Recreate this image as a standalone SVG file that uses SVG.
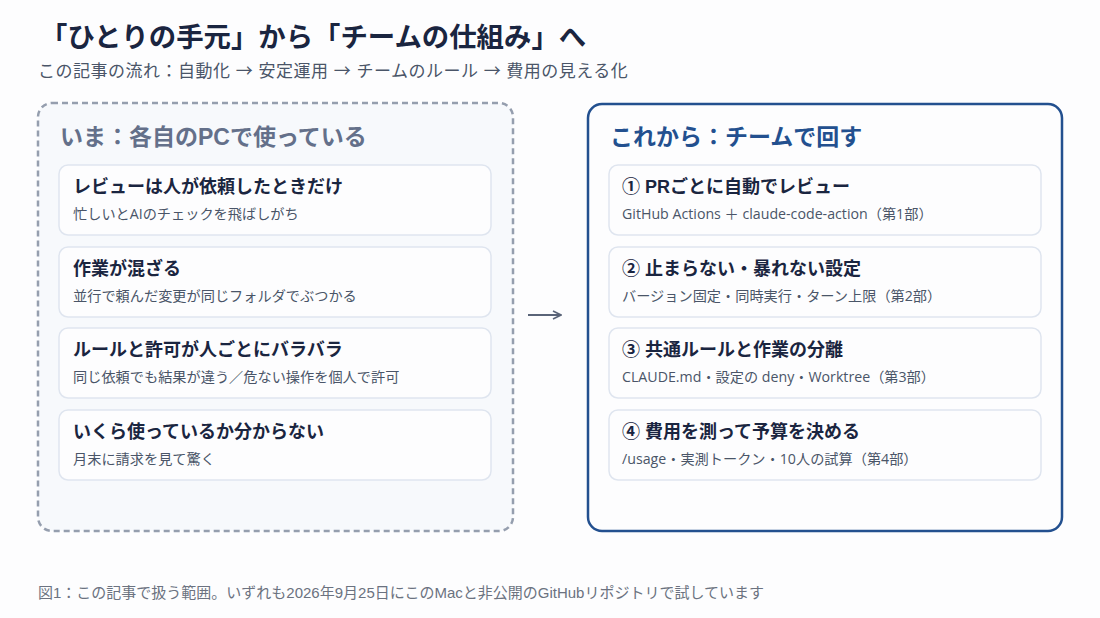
<svg xmlns="http://www.w3.org/2000/svg" width="1100" height="618" viewBox="0 0 1100 618">
<defs>
<style>
text{font-family:"Liberation Sans","Noto Sans CJK JP",sans-serif}
.t{font-size:27.4px;font-weight:700;fill:#1a2540}
.st{font-size:17px;fill:#4a5568;letter-spacing:0.5px}
.ar{font-family:"Noto Sans CJK JP",sans-serif}
.h{font-size:23px;font-weight:700}
.card{fill:#fdfdfe;stroke:#dfe5ef;stroke-width:1.5}
.ct{font-size:18px;font-weight:700;fill:#1a2540}
.cs{font-size:14.2px;fill:#4a5568;font-family:"Open Sans","Noto Sans CJK JP",sans-serif}
.foot{font-size:15px;fill:#6b7280}
</style>
<marker id="ah" viewBox="0 0 10 10" refX="9" refY="5" markerWidth="10" markerHeight="10" markerUnits="userSpaceOnUse" orient="auto">
<path d="M1 1 L9 5 L1 9" fill="none" stroke="#5a6478" stroke-width="1.6"/>
</marker>
</defs>
<rect width="1100" height="618" fill="#fdfdfe"/>
<text class="t" x="40" y="47">「ひとりの手元」から「チームの仕組み」へ</text>
<text class="st" x="38" y="77">この記事の流れ：自動化 <tspan class="ar">→</tspan> 安定運用 <tspan class="ar">→</tspan> チームのルール <tspan class="ar">→</tspan> 費用の見える化</text>

<g id="left-panel">
<rect x="38" y="103" width="475" height="428" rx="14" fill="#f7f9fc" stroke="#959eae" stroke-width="2.5" stroke-dasharray="6,4"/>
<text class="h" x="60" y="145" fill="#64708a">いま：各自のPCで使っている</text>
</g>
<g id="left-1">
<rect class="card" x="59" y="165" width="432" height="70" rx="9"/>
<text class="ct" x="73" y="193">レビューは人が依頼したときだけ</text>
<text class="cs" x="73" y="219">忙しいとAIのチェックを飛ばしがち</text>
</g>
<g id="left-2">
<rect class="card" x="59" y="247" width="432" height="70" rx="9"/>
<text class="ct" x="73" y="275">作業が混ざる</text>
<text class="cs" x="73" y="301">並行で頼んだ変更が同じフォルダでぶつかる</text>
</g>
<g id="left-3">
<rect class="card" x="59" y="328" width="432" height="70" rx="9"/>
<text class="ct" x="73" y="356">ルールと許可が人ごとにバラバラ</text>
<text class="cs" x="73" y="382">同じ依頼でも結果が違う／危ない操作を個人で許可</text>
</g>
<g id="left-4">
<rect class="card" x="59" y="410" width="432" height="70" rx="9"/>
<text class="ct" x="73" y="438">いくら使っているか分からない</text>
<text class="cs" x="73" y="464">月末に請求を見て驚く</text>
</g>

<g id="right-panel">
<rect x="588" y="104" width="474" height="427" rx="14" fill="#fdfdfe" stroke="#23508f" stroke-width="2.5"/>
<text class="h" x="610" y="145" fill="#23508f">これから：チームで回す</text>
</g>
<g id="right-1">
<rect class="card" x="609" y="165" width="432" height="70" rx="9"/>
<text class="ct" x="622" y="193">① PRごとに自動でレビュー</text>
<text class="cs" x="622" y="219">GitHub Actions ＋ claude-code-action（第1部）</text>
</g>
<g id="right-2">
<rect class="card" x="609" y="247" width="432" height="70" rx="9"/>
<text class="ct" x="622" y="275">② 止まらない・暴れない設定</text>
<text class="cs" x="622" y="301">バージョン固定・同時実行・ターン上限（第2部）</text>
</g>
<g id="right-3">
<rect class="card" x="609" y="328" width="432" height="70" rx="9"/>
<text class="ct" x="622" y="356">③ 共通ルールと作業の分離</text>
<text class="cs" x="622" y="382">CLAUDE.md・設定の deny・Worktree（第3部）</text>
</g>
<g id="right-4">
<rect class="card" x="609" y="410" width="432" height="70" rx="9"/>
<text class="ct" x="622" y="438">④ 費用を測って予算を決める</text>
<text class="cs" x="622" y="464">/usage・実測トークン・10人の試算（第4部）</text>
</g>

<g id="connectors">
<line x1="528" y1="315" x2="561" y2="315" stroke="#5a6478" stroke-width="1.8" marker-end="url(#ah)"/>
</g>

<text class="foot" x="38" y="598">図1：この記事で扱う範囲。いずれも2026年9月25日にこのMacと非公開のGitHubリポジトリで試しています</text>
</svg>
